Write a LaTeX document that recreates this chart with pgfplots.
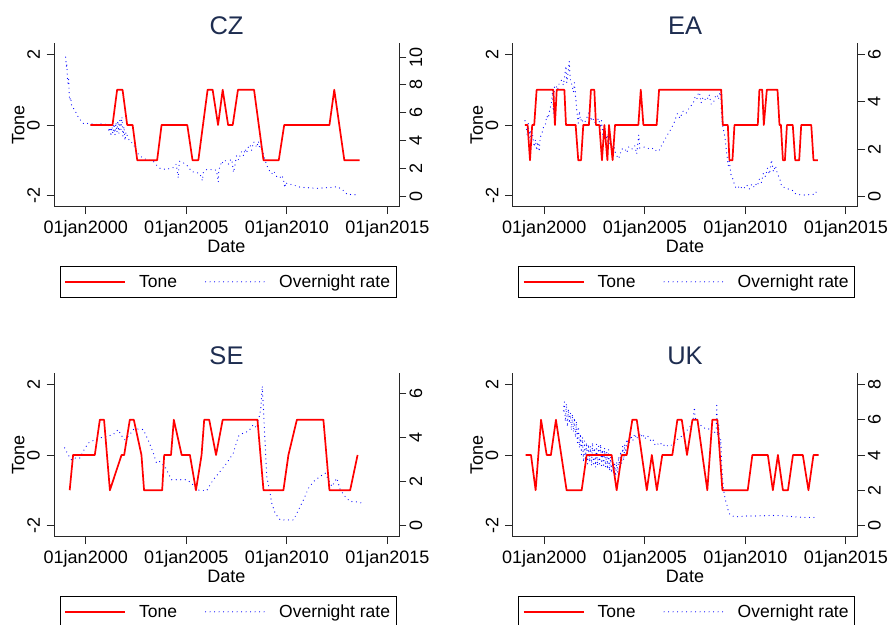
\documentclass[border=0pt]{standalone}
\usepackage{fontspec}
\setmainfont{Liberation Sans}
\usepackage{pgfplots}
\pgfplotsset{compat=1.18}
\definecolor{titlecol}{RGB}{30,45,80}
\definecolor{axcol}{RGB}{40,40,40}
\pgfplotsset{
  base/.style={
    scale only axis, width=345pt, height=163.4pt,
    xmin=1998.42, xmax=2015.58,
    anchor=south west,
    tick align=outside, major tick length=7.5pt,
    axis line style={line width=0.9pt, color=axcol},
    every tick/.style={line width=0.9pt, color=axcol},
    tick label style={font=\fontsize{18}{20}\selectfont},
  },
  leftax/.style={base,
    ymin=-2.32, ymax=2.32,
    axis x line*=bottom, axis y line*=left,
    xtick={2000,2005,2010,2015},
    xticklabels={01jan2000,01jan2005,01jan2010,01jan2015},
    ytick={-2,0,2}, yticklabels={-2,0,2},
    yticklabel style={rotate=90, anchor=south, inner sep=0pt, yshift=6.5pt},
    xticklabel style={anchor=north, inner sep=0pt, yshift=-6pt},
    xlabel={Date}, ylabel={Tone},
    label style={font=\fontsize{18}{20}\selectfont},
    xlabel style={at={(axis description cs:0.5,-0.242)}, anchor=center},
    ylabel style={at={(axis description cs:-0.1035,0.5)}, anchor=center},
    title style={at={(axis description cs:0.5,1.073)}, anchor=center, font=\fontsize{25.5}{28}\selectfont, color=titlecol},
  },
  rightax/.style={base,
    axis x line=none, axis y line*=right,
    yticklabel style={rotate=90, anchor=north, inner sep=0pt, yshift=-2.8pt},
    legend columns=2,
    legend style={at={(0.505,-0.361)}, anchor=north, draw=black, line width=1pt,
      font=\fontsize{17.5}{21}\selectfont, legend cell align=left,
      inner xsep=4pt, inner ysep=6.5pt,
      /tikz/every odd column/.append style={column sep=11pt},
      /tikz/every even column/.append style={column sep=26pt}},
    legend image code/.code={\draw[#1] (0pt,0pt) -- (60pt,0pt);},
  },
  tone/.style={red, line width=1.7pt, line join=round, dash pattern=on 1000pt off 0pt},
  rate/.style={blue, line width=1.2pt, line cap=round, dash pattern=on 0pt off 4.5pt},
}
\begin{document}
\begin{tikzpicture}
\useasboundingbox (0,0) rectangle (890pt,624pt);
\clip (0,0) rectangle (890pt,624pt);
% ---------------- CZ
\begin{axis}[rightax, at={(54pt,417.3pt)}, ymin=-0.77, ymax=11.0, ytick={0,2,4,6,8,10}, yticklabels={0,2,4,6,8,10}]
\addlegendimage{tone}\addlegendentry{Tone}
\addplot[rate] coordinates {(1999.00,10.0)(1999.02,9.6)(1999.04,9.3)(1999.06,9.5)(1999.08,8.6)(1999.12,8.1)(1999.15,8.4)(1999.18,7.2)(1999.2,6.9)(1999.25,7.1)(1999.3,6.5)(1999.37,6.4)(1999.45,6.1)(1999.53,6.0)(1999.65,5.6)(1999.78,5.4)(1999.9,5.2)(2000.0,5.25)(2000.2,5.2)(2000.5,5.15)(2000.7,5.2)(2000.9,5.15)(2001.11,5.2)(2001.15,4.6)(2001.2,5.1)(2001.25,4.3)(2001.3,5.0)(2001.35,4.5)(2001.4,5.2)(2001.45,4.4)(2001.5,5.3)(2001.55,4.6)(2001.6,5.4)(2001.65,4.5)(2001.7,5.6)(2001.75,4.8)(2001.8,5.7)(2001.85,4.3)(2001.9,5.0)(2001.95,4.0)(2002.0,4.6)(2002.1,4.2)(2002.2,3.9)(2002.36,3.8)(2002.5,3.2)(2002.56,3.1)(2002.7,2.9)(2002.86,2.7)(2003.1,2.6)(2003.36,2.5)(2003.5,2.25)(2003.69,2.0)(2003.85,1.95)(2004.02,1.9)(2004.2,2.0)(2004.36,2.05)(2004.5,2.3)(2004.6,1.3)(2004.65,2.5)(2004.69,2.5)(2004.8,2.4)(2004.93,2.35)(2005.1,2.1)(2005.27,1.75)(2005.5,1.7)(2005.68,1.6)(2005.8,1.1)(2005.85,1.7)(2006.01,1.9)(2006.2,1.9)(2006.35,1.9)(2006.5,1.85)(2006.59,1.0)(2006.62,1.9)(2006.7,2.2)(2006.76,2.5)(2006.8,2.4)(2006.9,2.6)(2007.01,2.45)(2007.1,2.3)(2007.2,2.6)(2007.26,2.65)(2007.35,1.7)(2007.42,2.2)(2007.5,2.9)(2007.6,2.6)(2007.67,2.9)(2007.75,3.2)(2007.85,2.9)(2007.92,3.4)(2008.0,3.1)(2008.1,3.6)(2008.17,3.7)(2008.25,3.3)(2008.35,3.9)(2008.42,3.8)(2008.5,3.5)(2008.59,3.95)(2008.65,3.4)(2008.75,3.6)(2008.82,3.1)(2008.92,2.6)(2009.0,2.2)(2009.1,1.9)(2009.25,1.6)(2009.35,1.8)(2009.5,1.4)(2009.65,1.3)(2009.75,1.5)(2009.84,1.15)(2009.9,0.6)(2009.95,1.0)(2010.0,0.9)(2010.15,0.85)(2010.33,0.8)(2010.5,0.7)(2010.67,0.63)(2011.0,0.6)(2011.5,0.55)(2012.0,0.6)(2012.33,0.63)(2012.5,0.68)(2012.75,0.48)(2013.0,0.12)(2013.3,0.1)(2013.58,0.07)};
\addlegendentry{Overnight rate}
\end{axis}
\begin{axis}[leftax, at={(54pt,417.3pt)}, title={CZ}]
\addplot[tone] coordinates {(2000.23,0)(2001.33,0)(2001.56,1)(2001.83,1)(2002.06,0)(2002.33,0)(2002.56,-1)(2003.55,-1)(2003.77,0)(2005.05,0)(2005.31,-1)(2005.6,-1)(2006.06,1)(2006.31,1)(2006.58,0)(2006.81,1)(2007.08,0)(2007.31,0)(2007.57,1)(2008.37,1)(2008.84,-1)(2009.6,-1)(2009.87,0)(2012.12,0)(2012.36,1)(2012.86,-1)(2013.62,-1)};
\end{axis}
% ---------------- EA
\begin{axis}[rightax, at={(512.5pt,417.3pt)}, ymin=-0.42, ymax=6.46, ytick={0,2,4,6}, yticklabels={0,2,4,6}]
\addlegendimage{tone}\addlegendentry{Tone}
\addplot[rate] coordinates {(1999.04,3.2)(1999.1,3.0)(1999.15,2.6)(1999.2,3.1)(1999.25,2.5)(1999.3,2.8)(1999.35,2.3)(1999.42,2.6)(1999.5,2.1)(1999.56,2.4)(1999.62,1.95)(1999.68,2.3)(1999.75,1.9)(1999.8,2.5)(1999.86,2.6)(1999.95,2.9)(2000.05,3.0)(2000.12,3.4)(2000.2,3.3)(2000.28,3.7)(2000.35,3.9)(2000.42,4.5)(2000.45,3.5)(2000.5,4.6)(2000.58,4.7)(2000.66,4.5)(2000.75,4.8)(2000.85,4.9)(2000.95,4.7)(2001.0,5.0)(2001.08,5.5)(2001.12,4.8)(2001.18,5.2)(2001.24,5.7)(2001.3,4.9)(2001.38,4.7)(2001.45,4.4)(2001.5,4.8)(2001.58,4.0)(2001.62,3.6)(2001.69,3.1)(2001.75,3.6)(2001.8,3.2)(2001.88,3.3)(2001.95,3.0)(2002.05,3.2)(2002.15,3.4)(2002.22,3.6)(2002.3,3.2)(2002.4,3.35)(2002.5,3.1)(2002.62,3.2)(2002.7,3.3)(2002.8,2.9)(2002.85,3.2)(2002.92,2.5)(2003.0,2.8)(2003.05,2.3)(2003.12,2.6)(2003.2,2.1)(2003.28,2.5)(2003.35,1.9)(2003.45,2.2)(2003.55,1.8)(2003.7,1.6)(2003.85,2.0)(2004.0,2.04)(2004.1,1.85)(2004.2,2.1)(2004.35,2.0)(2004.5,2.15)(2004.6,1.8)(2004.7,2.6)(2004.75,2.05)(2004.93,2.1)(2005.1,2.05)(2005.3,2.0)(2005.45,2.05)(2005.6,1.9)(2005.73,1.97)(2005.85,2.2)(2006.0,2.4)(2006.12,2.6)(2006.3,2.85)(2006.45,3.1)(2006.62,3.5)(2006.75,3.3)(2006.9,3.6)(2007.05,3.5)(2007.25,3.8)(2007.4,3.9)(2007.5,4.2)(2007.59,4.1)(2007.7,4.5)(2007.8,3.95)(2007.9,4.2)(2008.0,4.1)(2008.08,4.05)(2008.2,4.3)(2008.3,3.9)(2008.41,3.95)(2008.5,4.2)(2008.6,4.3)(2008.66,4.1)(2008.77,4.5)(2008.8,3.8)(2008.85,3.1)(2008.92,2.8)(2009.0,2.4)(2009.08,1.8)(2009.15,1.3)(2009.2,1.5)(2009.28,0.95)(2009.38,0.75)(2009.46,0.5)(2009.55,0.35)(2009.65,0.42)(2009.75,0.32)(2009.85,0.45)(2010.0,0.35)(2010.1,0.48)(2010.2,0.33)(2010.3,0.5)(2010.4,0.38)(2010.5,0.55)(2010.6,0.45)(2010.7,0.75)(2010.8,0.6)(2010.9,1.0)(2011.0,0.85)(2011.1,1.2)(2011.2,0.95)(2011.3,1.55)(2011.4,1.05)(2011.5,1.3)(2011.6,0.95)(2011.7,0.8)(2011.8,0.45)(2011.9,0.4)(2012.0,0.38)(2012.2,0.3)(2012.4,0.25)(2012.5,0.12)(2012.75,0.08)(2013.0,0.07)(2013.3,0.1)(2013.45,0.1)(2013.5,0.2)(2013.6,0.15)};
\addlegendentry{Overnight rate}
\end{axis}
\begin{axis}[leftax, at={(512.5pt,417.3pt)}, title={EA}]
\addplot[tone] coordinates {(1999.04,0)(1999.17,0)(1999.29,-1)(1999.4,0)(1999.5,0)(1999.62,1)(2000.45,1)(2000.53,0)(2000.62,1)(2001.0,1)(2001.08,0)(2001.56,0)(2001.69,-1)(2001.83,-1)(2001.94,0)(2002.22,0)(2002.32,1)(2002.49,1)(2002.57,0)(2002.74,0)(2002.87,-1)(2002.99,0)(2003.14,-1)(2003.22,0)(2003.4,-1)(2003.52,0)(2004.68,0)(2004.8,1)(2004.93,0)(2005.59,0)(2005.71,1)(2008.8,1)(2008.88,0)(2009.13,0)(2009.21,-1)(2009.36,-1)(2009.46,0)(2010.62,0)(2010.7,1)(2010.84,1)(2010.92,0)(2011.07,1)(2011.6,1)(2011.7,0)(2011.77,0)(2011.87,-1)(2011.97,-1)(2012.07,0)(2012.36,0)(2012.48,-1)(2012.68,-1)(2012.78,0)(2013.28,0)(2013.39,-1)(2013.61,-1)};
\end{axis}
% ---------------- SE
\begin{axis}[rightax, at={(54pt,87.3pt)}, ymin=-0.5, ymax=6.9, ytick={0,2,4,6}, yticklabels={0,2,4,6}]
\addlegendimage{tone}\addlegendentry{Tone}
\addplot[rate] coordinates {(1998.95,3.52)(1999.12,3.21)(1999.29,2.98)(1999.45,3.06)(1999.7,3.06)(1999.87,3.36)(2000.12,3.74)(2000.45,3.89)(2000.7,3.97)(2001.03,4.05)(2001.36,4.12)(2001.61,4.35)(2001.78,4.08)(2001.94,3.89)(2002.19,4.12)(2002.36,4.35)(2002.53,4.38)(2002.86,4.35)(2003.1,3.89)(2003.36,3.29)(2003.52,2.83)(2003.69,2.91)(2003.94,2.68)(2004.1,2.38)(2004.27,2.08)(2004.52,2.08)(2005.02,2.08)(2005.27,1.92)(2005.52,1.62)(2006.01,1.58)(2006.34,2.08)(2006.68,2.45)(2007.01,2.83)(2007.34,3.29)(2007.59,4.05)(2007.84,4.2)(2008.09,4.27)(2008.34,4.58)(2008.5,4.42)(2008.7,5.26)(2008.78,6.32)(2008.83,5.41)(2008.92,3.74)(2009.0,2.23)(2009.17,1.47)(2009.25,1.02)(2009.42,0.56)(2009.67,0.26)(2010.0,0.26)(2010.33,0.26)(2010.58,0.71)(2010.83,1.17)(2011.08,1.7)(2011.33,2.0)(2011.66,2.23)(2011.91,2.38)(2012.07,2.08)(2012.24,1.77)(2012.49,2.15)(2012.66,1.62)(2012.9,1.32)(2013.15,1.09)(2013.4,1.09)(2013.74,1.02)};
\addlegendentry{Overnight rate}
\end{axis}
\begin{axis}[leftax, at={(54pt,87.3pt)}, title={SE}]
\addplot[tone] coordinates {(1999.2,-1)(1999.37,0)(2000.45,0)(2000.7,1)(2000.91,1)(2001.2,-1)(2001.78,0)(2001.91,0)(2002.19,1)(2002.39,1)(2002.77,0)(2002.9,-1)(2003.8,-1)(2003.9,0)(2004.24,0)(2004.38,1)(2004.77,0)(2005.18,0)(2005.48,-1)(2005.76,0)(2005.89,1)(2006.14,1)(2006.48,0)(2006.81,1)(2008.54,1)(2008.84,-1)(2009.83,-1)(2010.08,0)(2010.5,1)(2011.82,1)(2012.12,-1)(2013.15,-1)(2013.52,0)};
\end{axis}
% ---------------- UK
\begin{axis}[rightax, at={(512.5pt,87.3pt)}, ymin=-0.62, ymax=8.62, ytick={0,2,4,6,8}, yticklabels={0,2,4,6,8}]
\addlegendimage{tone}\addlegendentry{Tone}
\addplot[rate] coordinates {(2000.95,6.5)(2001.0,7.0)(2001.05,5.9)(2001.1,6.9)(2001.15,5.6)(2001.2,6.6)(2001.25,5.8)(2001.3,6.4)(2001.35,5.4)(2001.4,6.3)(2001.45,5.3)(2001.5,6.1)(2001.55,5.0)(2001.6,5.9)(2001.65,4.7)(2001.7,5.6)(2001.75,4.4)(2001.8,5.2)(2001.85,3.9)(2001.9,5.0)(2001.95,3.6)(2002.0,4.8)(2002.05,3.7)(2002.1,4.7)(2002.15,3.5)(2002.2,4.6)(2002.25,3.6)(2002.3,4.5)(2002.35,3.4)(2002.4,4.7)(2002.45,3.5)(2002.5,4.4)(2002.55,3.3)(2002.6,4.6)(2002.65,3.4)(2002.7,4.5)(2002.75,3.5)(2002.8,4.6)(2002.85,3.4)(2002.9,4.3)(2002.95,3.3)(2003.0,4.4)(2003.05,3.3)(2003.1,4.2)(2003.15,3.2)(2003.2,4.3)(2003.25,3.1)(2003.3,3.9)(2003.35,3.0)(2003.4,3.6)(2003.45,2.9)(2003.5,3.5)(2003.55,2.8)(2003.6,3.6)(2003.65,3.0)(2003.7,3.9)(2003.75,3.2)(2003.8,4.2)(2003.85,3.5)(2003.9,4.5)(2003.95,3.7)(2004.0,4.6)(2004.05,3.9)(2004.1,4.9)(2004.2,4.5)(2004.3,5.1)(2004.4,4.8)(2004.5,5.2)(2004.6,4.9)(2004.7,5.3)(2004.8,5.0)(2004.9,5.2)(2005.0,4.9)(2005.1,5.1)(2005.2,5.0)(2005.3,4.8)(2005.4,4.9)(2005.5,4.6)(2005.6,4.7)(2005.7,4.55)(2005.8,4.65)(2005.9,4.5)(2006.0,4.6)(2006.1,4.5)(2006.2,4.6)(2006.34,4.55)(2006.5,4.7)(2006.6,4.85)(2006.75,5.0)(2006.9,5.1)(2007.0,5.3)(2007.1,5.4)(2007.2,5.5)(2007.3,5.7)(2007.4,6.0)(2007.47,6.7)(2007.5,6.1)(2007.6,5.9)(2007.75,5.7)(2007.9,5.6)(2008.0,5.5)(2008.16,5.5)(2008.3,5.3)(2008.45,5.2)(2008.55,5.5)(2008.58,6.8)(2008.62,5.1)(2008.68,5.7)(2008.72,4.4)(2008.78,4.9)(2008.82,3.5)(2008.86,2.8)(2008.92,2.0)(2009.0,1.5)(2009.08,1.2)(2009.16,0.8)(2009.25,0.6)(2009.5,0.5)(2010.0,0.55)(2010.5,0.55)(2011.0,0.57)(2011.5,0.58)(2012.0,0.55)(2012.5,0.5)(2013.0,0.47)(2013.6,0.47)};
\addlegendentry{Overnight rate}
\end{axis}
\begin{axis}[leftax, at={(512.5pt,87.3pt)}, title={UK}]
\addplot[tone] coordinates {(1999.07,0)(1999.34,0)(1999.57,-1)(1999.84,1)(2000.12,0)(2000.33,0)(2000.58,1)(2001.11,-1)(2001.86,-1)(2002.11,0)(2003.35,0)(2003.6,-1)(2003.85,0)(2004.1,0)(2004.38,1)(2004.6,1)(2005.1,-1)(2005.35,0)(2005.6,-1)(2005.87,0)(2006.37,0)(2006.62,1)(2006.84,1)(2007.1,0)(2007.37,1)(2007.62,1)(2008.11,-1)(2008.36,1)(2008.61,1)(2008.86,-1)(2010.12,-1)(2010.35,0)(2011.12,0)(2011.37,-1)(2011.62,0)(2011.87,-1)(2012.12,-1)(2012.37,0)(2012.86,0)(2013.14,-1)(2013.39,0)(2013.64,0)};
\end{axis}
\end{tikzpicture}
\end{document}
